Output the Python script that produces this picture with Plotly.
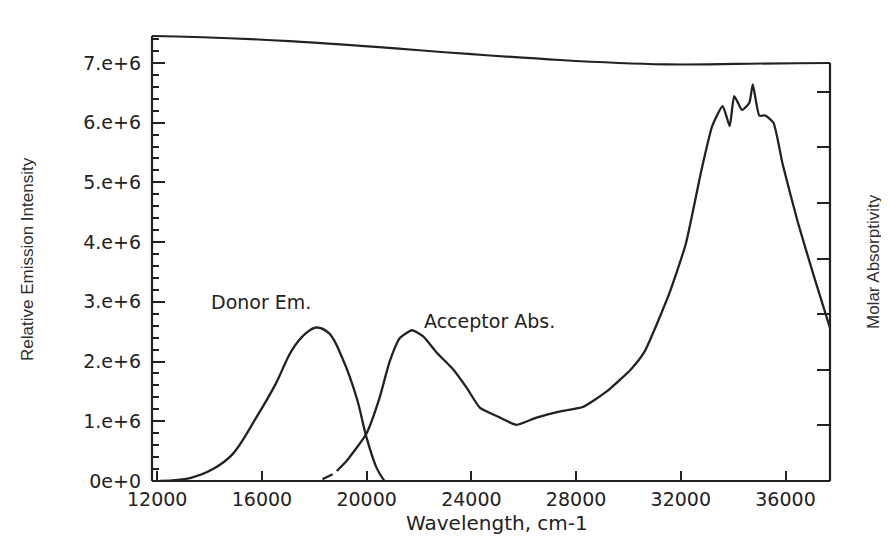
import plotly.graph_objects as go

# Donor emission (left axis, relative emission intensity)
donor_x = [12100, 13250, 14130, 14880, 15780, 16530, 17130, 17670, 18070,
           18570, 19070, 19620, 20000, 20380, 20680]
donor_y = [0.0, 0.05e6, 0.20e6, 0.45e6, 1.06e6, 1.63e6, 2.18e6, 2.47e6, 2.57e6,
           2.47e6, 2.06e6, 1.39e6, 0.72e6, 0.22e6, 0.0]

# Acceptor absorption (right axis, molar absorptivity, in right-axis tick units)
acc_x = [18310, 18700, 18860, 19230, 19990, 20490, 20880, 21270, 21730, 22160,
         22690, 23300, 23830, 24320, 24960, 25720, 26490, 27490, 28260, 29200,
         30100, 30620, 31550, 32190, 32780, 33200, 33600, 33870, 34040, 34340,
         34620, 34750, 35000, 35230, 35540, 35890, 36460, 37060, 37700]
acc_y = [0.03, 0.12, 0.18, 0.36, 0.85, 1.49, 2.15, 2.57, 2.71, 2.60,
         2.30, 2.01, 1.67, 1.32, 1.17, 1.01, 1.14, 1.26, 1.33, 1.62,
         2.01, 2.33, 3.36, 4.26, 5.57, 6.38, 6.74, 6.38, 6.92, 6.67,
         6.80, 7.13, 6.57, 6.57, 6.44, 5.70, 4.67, 3.72, 2.75]

x_ticks = [12000, 16000, 20000, 24000, 28000, 32000, 36000]
x_labels = ["12000", "16000", "20000", "24000", "28000", "32000", "36000"]
y_ticks = [0, 1e6, 2e6, 3e6, 4e6, 5e6, 6e6, 7e6]
y_labels = ["0e+0", "1.e+6", "2.e+6", "3.e+6", "4.e+6", "5.e+6", "6.e+6", "7.e+6"]
y2_ticks = [1, 2, 3, 4, 5, 6, 7]

ink = "#222222"
lw = 2.3
wide = "DejaVu Sans, Verdana, sans-serif"
plain = "Liberation Sans, Arial, sans-serif"

fig = go.Figure()
fig.add_trace(go.Scatter(x=donor_x, y=donor_y, mode="lines",
                         line=dict(color=ink, width=lw, shape="spline", smoothing=1.0),
                         showlegend=False))
fig.add_trace(go.Scatter(x=acc_x[:2], y=acc_y[:2], yaxis="y2", mode="lines",
                         line=dict(color=ink, width=lw), showlegend=False))
fig.add_trace(go.Scatter(x=acc_x[2:], y=acc_y[2:], yaxis="y2", mode="lines",
                         line=dict(color=ink, width=lw, shape="spline", smoothing=0.5),
                         showlegend=False))

OFF = 8  # page body margin
W, H = 889 - OFF, 537 - OFF
L, T = 152 - OFF, 36 - OFF
R = W - (830 - OFF)
B = H - (481 - OFF)

def py(p):  # reference pixel y -> paper y
    return (H - B - (p - OFF)) / (H - T - B)

def px(p):  # reference pixel x -> paper x
    return ((p - OFF) - L) / (W - L - R)

fig.update_layout(
    width=W, height=H,
    margin=dict(l=L, r=R, t=T, b=B),
    paper_bgcolor="white", plot_bgcolor="white",
    font=dict(family=wide, size=18, color=ink),
    xaxis=dict(range=[11800, 37700], tickvals=x_ticks, ticktext=x_labels,
               ticks="inside", ticklen=10, tickwidth=1.8, tickcolor=ink,
               ticklabelstandoff=5,
               showline=False, showgrid=False, zeroline=False,
               tickfont=dict(size=19, color=ink, family=wide)),
    yaxis=dict(range=[0, 7.45e6], tickvals=y_ticks, ticktext=y_labels,
               ticks="inside", ticklen=13, tickwidth=1.8, tickcolor=ink,
               ticklabelstandoff=10,
               minor=dict(dtick=0.2e6, ticks="inside", ticklen=7, tickwidth=1.5, tickcolor=ink),
               showline=False, showgrid=False, zeroline=False,
               tickfont=dict(size=19, color=ink, family=wide)),
    yaxis2=dict(range=[0, 8], overlaying="y", side="right", tickvals=y2_ticks,
                ticks="inside", ticklen=13, tickwidth=1.8, tickcolor=ink,
                showticklabels=False, showline=False, showgrid=False, zeroline=False),
)

# frame
frame = dict(color=ink, width=2.2)
fig.add_shape(type="line", xref="paper", yref="paper", x0=0, y0=0, x1=1, y1=0, line=frame)
fig.add_shape(type="line", xref="paper", yref="paper", x0=0, y0=0, x1=0, y1=1, line=frame)
fig.add_shape(type="line", xref="paper", yref="paper", x0=1, y0=0, x1=1, y1=py(63), line=frame)
top_path = (f"M 0,1 C {px(300)},{py(38)} {px(420)},{py(52)} {px(560)},{py(60)} "
            f"S {px(700)},{py(63)} 1,{py(63)}")
fig.add_shape(type="path", xref="paper", yref="paper", path=top_path, line=frame)

# labels
fig.add_annotation(x=15980, y=3.0e6, text="Donor Em.", showarrow=False,
                   font=dict(size=19, color=ink, family=wide))
fig.add_annotation(x=24710, y=2.68e6, text="Acceptor Abs.", showarrow=False,
                   font=dict(size=19, color=ink, family=wide))
fig.add_annotation(xref="paper", yref="paper", x=px(497), y=py(523),
                   xanchor="center", yanchor="middle",
                   text="Wavelength, cm-1", showarrow=False,
                   font=dict(size=20, color=ink, family=wide))
fig.add_annotation(xref="paper", yref="paper", x=px(28), y=py(259),
                   xanchor="center", yanchor="middle",
                   text="Relative Emission Intensity", textangle=-90, showarrow=False,
                   font=dict(size=17, color="#2e2e2e", family=plain))
fig.add_annotation(xref="paper", yref="paper", x=px(873), y=py(262),
                   xanchor="center", yanchor="middle",
                   text="Molar Absorptivity", textangle=-90, showarrow=False,
                   font=dict(size=17, color="#2e2e2e", family=plain))

fig.write_html("out.html")
